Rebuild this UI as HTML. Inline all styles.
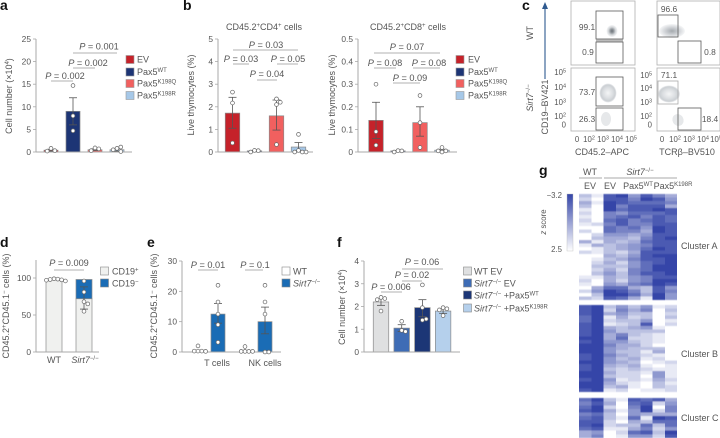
<!DOCTYPE html>
<html lang="en">
<head>
<meta charset="utf-8">
<title>Sirt7 Pax5 figure</title>
<style>
html,body{margin:0;padding:0;background:#fff;}
svg{display:block;font-family:"Liberation Sans",sans-serif;}
text{fill:#555;font-size:9px;}
.pl{font-size:14px;font-weight:bold;fill:#111;}
.tick{font-size:8.4px;}
.small{font-size:7.8px;}
.pv{font-size:9.2px;}
.pv tspan.i,.i{font-style:italic;}
.sig{stroke:#999;stroke-width:.8;}
.gate{fill:none;stroke:#5a5a5a;stroke-width:.8;}
.plot{fill:#fff;stroke:#b0b0b0;stroke-width:.8;}
.hdr{stroke:#aaa;stroke-width:.9;}
</style>
</head>
<body>
<svg id="fig" width="720" height="438" viewBox="0 0 720 438" xmlns="http://www.w3.org/2000/svg">
<defs>
<radialGradient id="blobDark"><stop offset="0" stop-color="#6c7278"/><stop offset=".3" stop-color="#8f959a"/><stop offset=".65" stop-color="#d3d6d9"/><stop offset="1" stop-color="#f6f7f8"/></radialGradient>
<radialGradient id="blobMid"><stop offset="0" stop-color="#a4a9ae"/><stop offset=".5" stop-color="#cdd0d4"/><stop offset="1" stop-color="#f6f7f8"/></radialGradient>
<radialGradient id="blobLight"><stop offset="0" stop-color="#f4f5f6"/><stop offset=".55" stop-color="#dcdfe2"/><stop offset=".85" stop-color="#cbcfd3"/><stop offset="1" stop-color="#f0f1f3"/></radialGradient>
<linearGradient id="cbar" x1="0" y1="0" x2="0" y2="1"><stop offset="0" stop-color="#3445a8"/><stop offset="1" stop-color="#ffffff"/></linearGradient>
<filter id="heatSoft" x="-2%" y="-2%" width="104%" height="104%"><feGaussianBlur stdDeviation="0.25 0.5"/></filter>
</defs>

<!-- panel letters -->
<text class="pl" x="0" y="10">a</text>
<text class="pl" x="183" y="10">b</text>
<text class="pl" x="522" y="10">c</text>
<text class="pl" x="0" y="247">d</text>
<text class="pl" x="147" y="247">e</text>
<text class="pl" x="337" y="247">f</text>
<text class="pl" x="539" y="175">g</text>

<!-- panel a labels -->
<text transform="rotate(-90 12 96)" x="12" y="96" text-anchor="middle">Cell number (×10<tspan dy="-3" font-size="6">4</tspan><tspan dy="3">)</tspan></text>
<g>
<text class="pv" x="65" y="79" text-anchor="middle"><tspan class="i">P</tspan> = 0.002</text><line class="sig" x1="51" x2="73" y1="81" y2="81"/>
<text class="pv" x="88" y="66" text-anchor="middle"><tspan class="i">P</tspan> = 0.002</text><line class="sig" x1="73" x2="95" y1="68" y2="68"/>
<text class="pv" x="99" y="49.500" text-anchor="middle"><tspan class="i">P</tspan> = 0.001</text><line class="sig" x1="73" x2="117" y1="53" y2="53"/>
</g>
<g>
<rect x="126" y="55.500" width="8" height="8" fill="#c5222a" stroke="#999" stroke-width=".6"/><text x="137" y="62.500">EV</text>
<rect x="126" y="68" width="8" height="8" fill="#1d3575" stroke="#999" stroke-width=".6"/><text x="137" y="75">Pax5<tspan dy="-3" font-size="6">WT</tspan></text>
<rect x="126" y="79.500" width="8" height="8" fill="#f1605f" stroke="#999" stroke-width=".6"/><text x="137" y="86.500">Pax5<tspan dy="-3" font-size="6">K198Q</tspan></text>
<rect x="126" y="91.500" width="8" height="8" fill="#a6c8e8" stroke="#999" stroke-width=".6"/><text x="137" y="98.500">Pax5<tspan dy="-3" font-size="6">K198R</tspan></text>
</g>

<!-- panel b labels -->
<text x="264" y="30" text-anchor="middle">CD45.2<tspan dy="-3" font-size="6">+</tspan><tspan dy="3">CD4</tspan><tspan dy="-3" font-size="6">+</tspan><tspan dy="3"> cells</tspan></text>
<text x="408" y="30" text-anchor="middle">CD45.2<tspan dy="-3" font-size="6">+</tspan><tspan dy="3">CD8</tspan><tspan dy="-3" font-size="6">+</tspan><tspan dy="3"> cells</tspan></text>
<text transform="rotate(-90 194 95)" x="194" y="95" text-anchor="middle">Live thymocytes (%)</text>
<text transform="rotate(-90 335 95)" x="335" y="95" text-anchor="middle">Live thymocytes (%)</text>
<g>
<text class="pv" x="266" y="48" text-anchor="middle"><tspan class="i">P</tspan> = 0.03</text><line class="sig" x1="233" x2="298" y1="50" y2="50"/>
<text class="pv" x="241" y="62" text-anchor="middle"><tspan class="i">P</tspan> = 0.03</text><line class="sig" x1="233" x2="249" y1="64" y2="64"/>
<text class="pv" x="288" y="62" text-anchor="middle"><tspan class="i">P</tspan> = 0.05</text><line class="sig" x1="277" x2="298" y1="64" y2="64"/>
<text class="pv" x="267" y="77" text-anchor="middle"><tspan class="i">P</tspan> = 0.04</text><line class="sig" x1="257" x2="277" y1="80" y2="80"/>
</g>
<g>
<text class="pv" x="407" y="50" text-anchor="middle"><tspan class="i">P</tspan> = 0.07</text><line class="sig" x1="374" x2="440" y1="53" y2="53"/>
<text class="pv" x="385" y="66" text-anchor="middle"><tspan class="i">P</tspan> = 0.08</text><line class="sig" x1="374" x2="396" y1="68" y2="68"/>
<text class="pv" x="429" y="66" text-anchor="middle"><tspan class="i">P</tspan> = 0.08</text><line class="sig" x1="413" x2="440" y1="68" y2="68"/>
<text class="pv" x="410" y="81" text-anchor="middle"><tspan class="i">P</tspan> = 0.09</text><line class="sig" x1="393" x2="420" y1="83" y2="83"/>
</g>
<g>
<rect x="456" y="55.500" width="8" height="8" fill="#c5222a" stroke="#999" stroke-width=".6"/><text x="468" y="62.500">EV</text>
<rect x="456" y="68" width="8" height="8" fill="#1d3575" stroke="#999" stroke-width=".6"/><text x="468" y="75">Pax5<tspan dy="-3" font-size="6">WT</tspan></text>
<rect x="456" y="79.500" width="8" height="8" fill="#f1605f" stroke="#999" stroke-width=".6"/><text x="468" y="86.500">Pax5<tspan dy="-3" font-size="6">K198Q</tspan></text>
<rect x="456" y="91.500" width="8" height="8" fill="#a6c8e8" stroke="#999" stroke-width=".6"/><text x="468" y="98.500">Pax5<tspan dy="-3" font-size="6">K198R</tspan></text>
</g>

<!-- panel c flow plots -->
<g>
<line x1="545" x2="545" y1="79" y2="7" stroke="#2f5a8f" stroke-width="1.1"/>
<path d="M545 2 L548 9 L542 9 Z" fill="#2f5a8f"/>
<text transform="rotate(-90 548 107)" x="548" y="107" text-anchor="middle">CD19–BV421</text>
<text transform="rotate(-90 533 33)" x="533" y="33" text-anchor="middle">WT</text>
<text transform="rotate(-90 533 98)" x="533" y="98" text-anchor="middle"><tspan class="i">Sirt7</tspan><tspan dy="-3" font-size="6">−/−</tspan></text>

<rect class="plot" x="571" y="1" width="64" height="64"/>
<rect class="plot" x="657" y="1" width="63" height="64"/>
<rect class="plot" x="571" y="68" width="64" height="63"/>
<rect class="plot" x="657" y="68" width="63" height="63"/>

<ellipse cx="612" cy="31" rx="5.500" ry="6" fill="url(#blobDark)"/>
<ellipse cx="672" cy="31" rx="13" ry="7" fill="url(#blobMid)"/>
<ellipse cx="608" cy="93" rx="8.500" ry="9.500" fill="url(#blobLight)"/>
<ellipse cx="606" cy="119" rx="5" ry="7" fill="#e6e8ea"/>
<ellipse cx="669" cy="94" rx="11" ry="8.500" fill="url(#blobLight)"/>
<ellipse cx="678" cy="120" rx="5.500" ry="6" fill="#e6e8ea" transform="rotate(-30 678 120)"/>

<rect class="gate" x="596" y="11" width="27" height="28"/>
<rect class="gate" x="596" y="42" width="27" height="21"/>
<line x1="596" x2="623" y1="40.500" y2="40.500" stroke="#bbb" stroke-width="2"/>
<rect class="gate" x="658" y="15" width="20" height="22"/>
<rect class="gate" x="678" y="41" width="23" height="22"/>
<rect class="gate" x="596" y="77" width="27" height="29"/>
<rect class="gate" x="596" y="108" width="27" height="22"/>
<rect class="gate" x="658" y="81" width="20" height="23" style="stroke:#aaa"/>
<rect class="gate" x="678" y="108" width="23" height="22"/>

<text class="tick" x="587" y="30" text-anchor="middle">99.1</text>
<text class="tick" x="588" y="55" text-anchor="middle">0.9</text>
<text class="tick" x="669" y="12" text-anchor="middle">96.6</text>
<text class="tick" x="710" y="55" text-anchor="middle">0.8</text>
<text class="tick" x="587" y="95" text-anchor="middle">73.7</text>
<text class="tick" x="587" y="122" text-anchor="middle">26.3</text>
<text class="tick" x="669" y="78" text-anchor="middle">71.1</text>
<text class="tick" x="710" y="122" text-anchor="middle">18.4</text>

<g class="flow-y-ticks" text-anchor="end">
<text class="small" x="566" y="75">10<tspan dy="-2.500" font-size="5.500">5</tspan></text>
<text class="small" x="566" y="90">10<tspan dy="-2.500" font-size="5.500">4</tspan></text>
<text class="small" x="566" y="105">10<tspan dy="-2.500" font-size="5.500">3</tspan></text>
<text class="small" x="566" y="119">10<tspan dy="-2.500" font-size="5.500">2</tspan></text>
<text class="small" x="566" y="127.500">0</text>
<text class="small" x="652" y="78">10<tspan dy="-2.500" font-size="5.500">5</tspan></text>
<text class="small" x="652" y="91">10<tspan dy="-2.500" font-size="5.500">4</tspan></text>
<text class="small" x="652" y="105">10<tspan dy="-2.500" font-size="5.500">3</tspan></text>
<text class="small" x="652" y="119">10<tspan dy="-2.500" font-size="5.500">2</tspan></text>
<text class="small" x="652" y="127.500">0</text>
</g>
<g text-anchor="middle">
<text class="small" x="577" y="142">0</text>
<text class="small" x="589" y="142">10<tspan dy="-2.500" font-size="5.500">2</tspan></text>
<text class="small" x="603" y="142">10<tspan dy="-2.500" font-size="5.500">3</tspan></text>
<text class="small" x="617" y="142">10<tspan dy="-2.500" font-size="5.500">4</tspan></text>
<text class="small" x="631" y="142">10<tspan dy="-2.500" font-size="5.500">5</tspan></text>
<text class="small" x="662" y="142">0</text>
<text class="small" x="675" y="142">10<tspan dy="-2.500" font-size="5.500">2</tspan></text>
<text class="small" x="689" y="142">10<tspan dy="-2.500" font-size="5.500">3</tspan></text>
<text class="small" x="703" y="142">10<tspan dy="-2.500" font-size="5.500">4</tspan></text>
<text class="small" x="716" y="142">10<tspan dy="-2.500" font-size="5.500">5</tspan></text>
<text x="602" y="155">CD45.2–APC</text>
<text x="687" y="155">TCRβ–BV510</text>
</g>
</g>

<!-- panel d labels -->
<text transform="rotate(-90 9 306)" x="9" y="306" text-anchor="middle">CD45.2<tspan dy="-3" font-size="6">+</tspan><tspan dy="3">CD45.1</tspan><tspan dy="-3" font-size="6">−</tspan><tspan dy="3"> cells (%)</tspan></text>
<text x="54" y="363" text-anchor="middle">WT</text>
<text x="85" y="363" text-anchor="middle"><tspan class="i">Sirt7</tspan><tspan dy="-3" font-size="6">−/−</tspan></text>
<g><text class="pv" x="69" y="266" text-anchor="middle"><tspan class="i">P</tspan> = 0.009</text><line class="sig" x1="54" x2="84" y1="270" y2="270"/></g>
<g>
<rect x="100.500" y="267" width="8" height="8" fill="#f0f1ef" stroke="#888" stroke-width=".6"/><text x="112" y="274.500">CD19<tspan dy="-3" font-size="6">+</tspan></text>
<rect x="100.500" y="279" width="8" height="8" fill="#1a6cb5" stroke="#888" stroke-width=".6"/><text x="112" y="286.500">CD19<tspan dy="-3" font-size="6">−</tspan></text>
</g>

<!-- panel e labels -->
<text transform="rotate(-90 157 306)" x="157" y="306" text-anchor="middle">CD45.2<tspan dy="-3" font-size="6">+</tspan><tspan dy="3">CD45.1</tspan><tspan dy="-3" font-size="6">−</tspan><tspan dy="3"> cells (%)</tspan></text>
<text x="217" y="366" text-anchor="middle">T cells</text>
<text x="265" y="366" text-anchor="middle">NK cells</text>
<g>
<text class="pv" x="208" y="268" text-anchor="middle"><tspan class="i">P</tspan> = 0.01</text><line class="sig" x1="198" x2="218" y1="270" y2="270"/>
<text class="pv" x="255" y="268" text-anchor="middle"><tspan class="i">P</tspan> = 0.1</text><line class="sig" x1="245" x2="263" y1="270" y2="270"/>
</g>
<g>
<rect x="282" y="267" width="8" height="8" fill="#fff" stroke="#888" stroke-width=".6"/><text x="293" y="274.500">WT</text>
<rect x="282" y="279" width="8" height="8" fill="#1a6cb5" stroke="#888" stroke-width=".6"/><text x="293" y="286.500"><tspan class="i">Sirt7</tspan><tspan dy="-3" font-size="6">−/−</tspan></text>
</g>

<!-- panel f labels -->
<text transform="rotate(-90 345 307)" x="345" y="307" text-anchor="middle">Cell number (×10<tspan dy="-3" font-size="6">4</tspan><tspan dy="3">)</tspan></text>
<g>
<text class="pv" x="391" y="290" text-anchor="middle"><tspan class="i">P</tspan> = 0.006</text><line class="sig" x1="381" x2="402" y1="292" y2="292"/>
<text class="pv" x="412" y="278" text-anchor="middle"><tspan class="i">P</tspan> = 0.02</text><line class="sig" x1="402" x2="422" y1="281" y2="281"/>
<text class="pv" x="422" y="265" text-anchor="middle"><tspan class="i">P</tspan> = 0.06</text><line class="sig" x1="402" x2="443" y1="269" y2="269"/>
</g>
<g>
<rect x="463.500" y="267" width="8" height="8" fill="#dfe0e1" stroke="#888" stroke-width=".6"/><text x="474" y="274.500">WT EV</text>
<rect x="463.500" y="279" width="8" height="8" fill="#3e6cb5" stroke="#888" stroke-width=".6"/><text x="474" y="286.500"><tspan class="i">Sirt7</tspan><tspan dy="-3" font-size="6">−/−</tspan><tspan dy="3"> EV</tspan></text>
<rect x="463.500" y="291" width="8" height="8" fill="#1c3676" stroke="#888" stroke-width=".6"/><text x="474" y="298.500"><tspan class="i">Sirt7</tspan><tspan dy="-3" font-size="6">−/−</tspan><tspan dy="3"> +Pax5</tspan><tspan dy="-3" font-size="6">WT</tspan></text>
<rect x="463.500" y="304" width="8" height="8" fill="#b5d0ec" stroke="#888" stroke-width=".6"/><text x="474" y="311.500"><tspan class="i">Sirt7</tspan><tspan dy="-3" font-size="6">−/−</tspan><tspan dy="3"> +Pax5</tspan><tspan dy="-3" font-size="6">K198R</tspan></text>
</g>

<!-- panel g labels -->
<g>
<text x="590" y="175" text-anchor="middle">WT</text>
<text x="640" y="175" text-anchor="middle"><tspan class="i">Sirt7</tspan><tspan dy="-3" font-size="6">−/−</tspan></text>
<line class="hdr" x1="579" x2="602" y1="178" y2="178"/>
<line class="hdr" x1="604" x2="677" y1="178" y2="178"/>
<text x="590" y="189" text-anchor="middle">EV</text>
<text x="610" y="189" text-anchor="middle">EV</text>
<text x="638" y="189" text-anchor="middle">Pax5<tspan dy="-3" font-size="6">WT</tspan></text>
<text x="673" y="189" text-anchor="middle">Pax5<tspan dy="-3" font-size="6">K198R</tspan></text>
</g>
<g>
<rect x="567" y="194" width="6" height="57" fill="url(#cbar)" stroke="#bbb" stroke-width=".4"/>
<text class="small" x="562" y="198" text-anchor="end">−3.2</text>
<text class="small" x="562" y="252" text-anchor="end">2.5</text>
<text class="small i" transform="rotate(-90 546 222)" x="546" y="222" text-anchor="middle"><tspan class="i">z</tspan><tspan font-style="normal"> score</tspan></text>
</g>
<text x="681" y="249">Cluster A</text>
<text x="681" y="357">Cluster B</text>
<text x="681" y="421">Cluster C</text>

<script>
// ---------- panel a ----------
const paxCategories = ['EV', 'Pax5WT', 'Pax5K198Q', 'Pax5K198R'];
const aTicks = [0, 5, 10, 15, 20, 25];
const aMeans = [0.4, 9, 0.5, 0.5];
const aErrLow = [0.2, 6, 0.3, 0.2];
const aErrHigh = [0.6, 12, 0.7, 0.8];
const aPoints = [[0.8, 0.3, 0.2], [14.7, 8, 4.7], [0.9, 0.7, 0.3], [0.8, 1.1, 0.5, 0.1]];
// ---------- panel b left ----------
const b1Ticks = [0, 1, 2, 3, 4, 5];
const b1Means = [1.72, 0.05, 1.6, 0.22];
const b1ErrLow = [1.05, 0.03, 0.97, 0];
const b1ErrHigh = [2.42, 0.07, 2.3, 0.42];
const b1Points = [[2.65, 2.17, 0.4], [0.07, 0.06, 0], [2.35, 2.2, 2.1, 0.33], [0.78, 0.07, 0, 0, 0]];
// ---------- panel b right ----------
const b2Ticks = [0, 0.1, 0.2, 0.3, 0.4, 0.5];
const b2TickLabels = ['0', '0.1', '0.2', '0.3', '0.4', '0.5'];
const b2Means = [0.14, 0.005, 0.13, 0.008];
const b2ErrLow = [0.06, 0.003, 0.07, 0.004];
const b2ErrHigh = [0.22, 0.007, 0.2, 0.012];
const b2Points = [[0.30, 0.09, 0.03], [0.006, 0.005, 0], [0.25, 0.13, 0.02], [0.02, 0.005, 0.005, 0]];
// ---------- panel d ----------
const dCategories = ['WT', 'Sirt7-/-'];
const dTicks = [0, 50, 100];
const dCd19Pos = [98, 72];
const dCd19Neg = [0, 26];
const dErrLow = [97, 58];
const dErrHigh = [99, 88];
const dPoints = [[99, 98.5, 98, 97.5, 97, 96], [96, 81, 68, 65, 55]];
// ---------- panel e ----------
const eCategories = ['T cells WT', 'T cells Sirt7-/-', 'NK cells WT', 'NK cells Sirt7-/-'];
const eTicks = [0, 10, 20, 30];
const eMeans = [0.5, 12.5, 0.4, 10];
const eErrLow = [0.2, 9.5, 0.1, 6];
const eErrHigh = [0.8, 16, 0.7, 14.8];
const ePoints = [[2, 0.3, 0.3, 0.3, 0.2], [22, 16.5, 12.5, 9, 3.2], [1.8, 0.2, 0.2, 0.2, 0.2], [22, 16.5, 12.5, 0, 0]];
// ---------- panel f ----------
const fCategories = ['WT EV', 'Sirt7-/- EV', 'Sirt7-/- +Pax5WT', 'Sirt7-/- +Pax5K198R'];
const fTicks = [0, 1, 2, 3, 4];
const fMeans = [2.2, 1.05, 1.95, 1.8];
const fErrLow = [2.05, 0.9, 1.55, 1.7];
const fErrHigh = [2.35, 1.2, 2.3, 1.9];
const fPoints = [[2.4, 2.35, 2.3, 1.8], [1.35, 0.95, 0.9], [2.95, 1.95, 1.4, 1.45], [1.95, 1.9, 1.85, 1.6]];
// ---------- panel g heatmap (intensity 0..9 in the colour scale) ----------
const heatClusterA = [
[3,1,8,9,5,8,6,4],[2,0,8,8,6,9,8,5],[4,1,9,8,7,7,7,6],[3,0,9,6,8,8,8,4],[1,0,9,7,8,8,9,8],
[2,0,6,5,7,7,7,8],[1,0,6,7,8,6,8,7],[2,0,7,8,6,7,8,7],[1,2,6,8,6,6,8,8],[0,0,7,6,7,5,9,8],
[2,0,7,6,6,4,9,8],[0,2,5,5,4,5,8,8],[0,3,4,4,3,6,8,9],[4,1,4,3,4,7,8,8],[1,4,3,4,5,6,8,8],
[0,1,3,4,5,7,9,8],[2,1,3,2,4,8,8,8],[0,0,4,3,5,8,9,9],[0,1,3,4,6,8,8,9],[0,2,4,2,5,7,8,9],
[0,3,3,3,5,7,9,9],[0,2,4,2,6,7,9,9],[0,3,5,3,6,8,8,9],[1,1,4,3,5,6,8,8],[2,0,4,2,5,6,9,9],
[1,0,5,4,6,7,9,8],[0,4,7,7,4,3,8,5],[2,5,9,8,6,3,8,6],[0,3,9,9,7,4,9,5],[3,2,8,7,4,1,9,5]];
const heatClusterB = [
[8,9,3,5,3,5,1,2],[8,9,2,6,4,6,0,3],[8,9,4,5,3,3,0,2],[7,9,1,4,2,3,0,3],[7,9,2,3,3,5,0,1],
[8,9,1,2,3,8,0,2],[8,9,4,3,4,5,1,0],[8,9,5,3,3,3,3,0],[8,9,4,6,3,2,1,0],[9,9,4,7,2,2,1,0],
[8,9,5,5,3,2,1,0],[9,9,6,4,4,2,0,0],[9,9,5,4,3,3,3,0],[9,9,5,3,3,1,4,0],[8,9,6,4,3,2,1,0],
[8,9,5,3,4,1,2,0],[9,9,5,4,3,0,1,2],[8,9,4,3,4,1,0,1],[8,9,3,2,3,2,1,1],[9,9,4,2,2,1,5,1],
[9,9,3,2,2,0,5,1],[8,9,5,1,2,1,4,2],[9,9,4,2,1,0,3,1],[9,9,3,4,1,0,3,2],[8,9,1,2,0,1,1,2]];
const heatClusterC = [
[7,9,3,1,8,7,8,4],[6,8,4,0,7,8,2,5],[7,9,2,0,6,9,0,6],[8,9,4,1,5,9,2,6],[6,7,3,0,5,4,4,4],
[7,8,3,1,7,1,9,8],[8,8,2,0,4,3,7,7],[8,9,2,3,3,7,3,7],[7,8,1,1,4,6,2,5],[4,5,0,2,7,8,3,9],[4,6,0,1,5,5,2,8]];

const NS = 'http://www.w3.org/2000/svg';
const fig = document.getElementById('fig');
function mk(tag, attrs, parent) {
  const el = document.createElementNS(NS, tag);
  for (const k in attrs) el.setAttribute(k, attrs[k]);
  (parent || fig).appendChild(el);
  return el;
}
function drawAxes(g, o, ticks, labels) {
  const y = v => o.y0 - v * o.pxPerUnit;
  const yAxis = mk('line', {x1: o.axisX, x2: o.axisX, y1: o.y0, y2: o.axisTop === undefined ? y(ticks[ticks.length - 1]) : o.axisTop, stroke: '#a8a8a8', 'stroke-width': 1}, g);
  
  
  const xAxis = mk('line', {x1: o.axisX, x2: o.axisEnd, y1: o.y0, y2: o.y0, stroke: '#a8a8a8', 'stroke-width': 1}, g);
  
  
  ticks.forEach((t, i) => {
    mk('line', {x1: o.axisX - 3, x2: o.axisX, y1: y(t), y2: y(t), stroke: '#a8a8a8', 'stroke-width': .8}, g);
    const label = mk('text', {x: o.axisX - 5, y: y(t) + 3, 'text-anchor': 'end', class: 'tick'}, g);
    label.textContent = labels ? labels[i] : String(t);
    
    
  });
}
function swarm(vals, cx, y) {
  const placed = [];
  vals.forEach(v => {
    const py = y(v);
    const tries = [0, 3.8, -3.8, 7.6, -7.6, 11.4, -11.4];
    let px = cx;
    for (const dx of tries) {
      if (!placed.some(p => Math.hypot(p[0] - (cx + dx), p[1] - py) < 3.4)) { px = cx + dx; break; }
    }
    placed.push([px, py]);
  });
  return placed;
}
function drawMarks(g, o, i, low, high, pts) {
  const y = v => o.y0 - v * o.pxPerUnit;
  const cx = o.xFor(i);
  const err = mk('g', {}, g);
  
  
  if (low !== null) {
    mk('line', {x1: cx, x2: cx, y1: y(low), y2: y(high), stroke: '#555', 'stroke-width': .8}, err);
    mk('line', {x1: cx - 4, x2: cx + 4, y1: y(low), y2: y(low), stroke: '#555', 'stroke-width': .8}, err);
    mk('line', {x1: cx - 4, x2: cx + 4, y1: y(high), y2: y(high), stroke: '#555', 'stroke-width': .8}, err);
  }
  swarm(pts, cx, y).forEach(p => {
    const c = mk('circle', {cx: p[0], cy: p[1], r: 1.9, fill: '#fff', stroke: '#666', 'stroke-width': .7}, g);
    
    
  });
}
function barChart(name, o, ticks, labels, means, low, high, points, colors) {
  const g = mk('g', {});
  
  
  means.forEach((m, i) => {
    const top = o.y0 - m * o.pxPerUnit;
    const b = mk('rect', {x: o.xFor(i) - o.barW / 2, y: top, width: o.barW, height: o.y0 - top, fill: colors[i], stroke: '#8a8a8a', 'stroke-width': .7}, g);
    
    
  });
  drawAxes(g, o, ticks, labels);
  means.forEach((m, i) => drawMarks(g, o, i, low[i], high[i], points[i]));
}
const redPalette = ['#c5222a', '#1d3575', '#f1605f', '#a6c8e8'];
const unitA = 113 / 25;
barChart('panel-a-chart', {axisX: 36, axisEnd: 132, y0: 152, pxPerUnit: unitA, barW: 14, xFor: i => 51 + i * 22}, aTicks, null, aMeans, aErrLow, aErrHigh, aPoints, redPalette);
barChart('panel-b-left-chart', {axisX: 218, axisEnd: 313, y0: 152, pxPerUnit: 113 / 5, barW: 14.5, xFor: i => 232.5 + i * 22}, b1Ticks, null, b1Means, b1ErrLow, b1ErrHigh, b1Points, redPalette);
barChart('panel-b-right-chart', {axisX: 358, axisEnd: 457, y0: 152, pxPerUnit: 113 / 0.5, barW: 14.5, xFor: i => 376 + i * 22}, b2Ticks, b2TickLabels, b2Means, b2ErrLow, b2ErrHigh, b2Points, redPalette);

// panel d: stacked bars
(function () {
  const o = {axisX: 36, axisEnd: 99, axisTop: 260, y0: 352, pxPerUnit: 0.74, barW: 16, xFor: i => 54 + i * 30};
  const g = mk('g', {});
  
  
  const y = v => o.y0 - v * o.pxPerUnit;
  dCategories.forEach((c, i) => {
    const lower = mk('rect', {x: o.xFor(i) - o.barW / 2, y: y(dCd19Pos[i]), width: o.barW, height: o.y0 - y(dCd19Pos[i]), fill: '#f0f1ef', stroke: '#8a8a8a', 'stroke-width': .7}, g);
    
    
    if (dCd19Neg[i] > 0) {
      const upper = mk('rect', {x: o.xFor(i) - o.barW / 2, y: y(dCd19Pos[i] + dCd19Neg[i]), width: o.barW, height: dCd19Neg[i] * o.pxPerUnit, fill: '#1a6cb5', stroke: '#8a8a8a', 'stroke-width': .7}, g);
      
      
    }
  });
  drawAxes(g, o, dTicks, null);
  dCategories.forEach((c, i) => drawMarks(g, o, i, i === 0 ? null : dErrLow[i], dErrHigh[i], dPoints[i]));
})();

const ePalette = ['#ffffff', '#1a6cb5', '#ffffff', '#1a6cb5'];
barChart('panel-e-chart', {axisX: 182, axisEnd: 281, y0: 352, pxPerUnit: 91 / 30, barW: 14, xFor: i => 198 + Math.floor(i / 2) * 47 + (i % 2) * 20}, eTicks, null, eMeans.map((m, i) => i % 2 ? m : 0), eErrLow.map((m, i) => i % 2 ? m : null), eErrHigh, ePoints, ePalette);

const fPalette = ['#dfe0e1', '#3e6cb5', '#1c3676', '#b5d0ec'];
barChart('panel-f-chart', {axisX: 364, axisEnd: 460, y0: 352, pxPerUnit: 91 / 4, barW: 15.5, xFor: i => 381 + i * 20.7}, fTicks, null, fMeans, fErrLow, fErrHigh, fPoints, fPalette);

// panel g heatmap
function heatColor(v) {
  const t = v / 9;
  const r = Math.round(255 + (52 - 255) * t), gg = Math.round(255 + (69 - 255) * t), b = Math.round(255 + (168 - 255) * t);
  return 'rgb(' + r + ',' + gg + ',' + b + ')';
}
function heatmap(name, rows, top, bottom) {
  const g = mk('g', {filter: 'url(#heatSoft)'});
  
  
  const left = 579, cw = 98 / 8, rh = (bottom - top) / rows.length;
  rows.forEach((row, r) => row.forEach((v, c) => {
    const cell = mk('rect', {x: left + c * cw, y: top + r * rh, width: cw, height: rh, fill: heatColor(v), 'shape-rendering': 'crispEdges'}, g);
    
    
  }));
}
heatmap('heatmap-cluster-a', heatClusterA, 194, 300);
heatmap('heatmap-cluster-b', heatClusterB, 305, 392);
heatmap('heatmap-cluster-c', heatClusterC, 398, 438);
</script>
</svg>
</body>
</html>
